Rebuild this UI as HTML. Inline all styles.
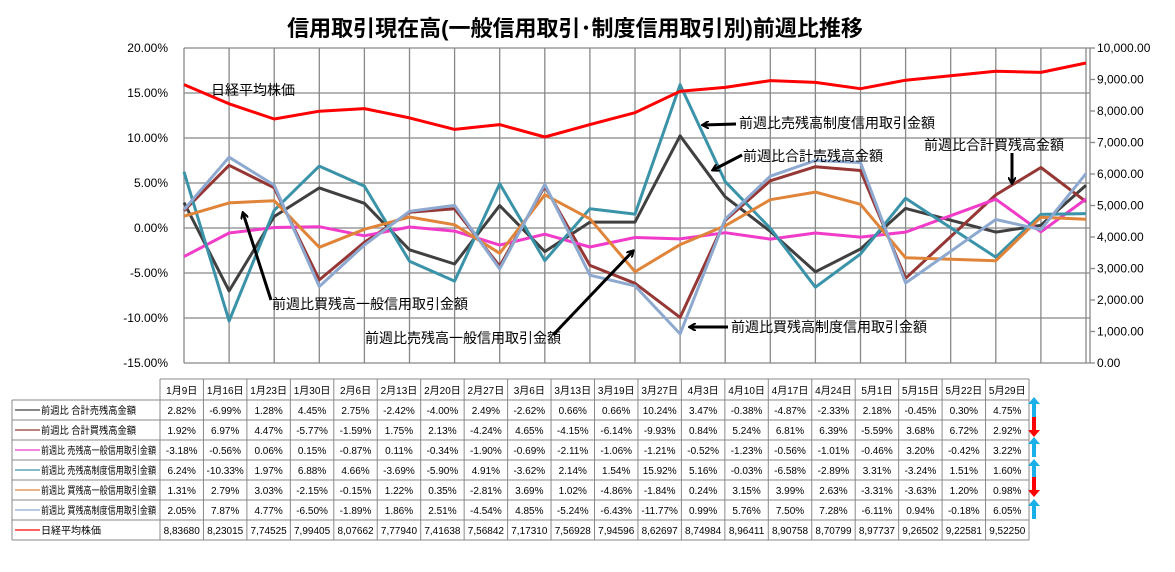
<!DOCTYPE html>
<html><head><meta charset="utf-8">
<style>
body{margin:0;background:#fff;width:1175px;height:572px;overflow:hidden;font-family:"Liberation Sans","Noto Sans CJK JP",sans-serif;}
svg{position:absolute;left:0;top:0}
</style></head><body>
<svg id="s" width="1175" height="572" xmlns="http://www.w3.org/2000/svg" font-family="Liberation Sans, Noto Sans CJK JP, sans-serif">
<text x="575" y="36" text-anchor="middle" font-size="22" font-weight="bold" fill="#000">信用取引現在高(一般信用取引･制度信用取引別)前週比推移</text>
<g id="grid" stroke="#888" stroke-width="1.3" fill="none"></g>
<g id="axes" font-size="12" fill="#000"></g>
<g id="lines" fill="none" stroke-width="3" stroke-linejoin="round"></g>
<g font-size="14" fill="#000">
<text x="211" y="95">日経平均株価</text>
<text x="739" y="128">前週比売残高制度信用取引金額</text>
<text x="743" y="161">前週比合計売残高金額</text>
<text x="924" y="150">前週比合計買残高金額</text>
<text x="272" y="309">前週比買残高一般信用取引金額</text>
<text x="365" y="343">前週比売残高一般信用取引金額</text>
<text x="731" y="332">前週比買残高制度信用取引金額</text>
</g>
<defs><marker id="ah" markerWidth="8" markerHeight="8" refX="6" refY="4" orient="auto" markerUnits="userSpaceOnUse"><path d="M0,0 L7,4 L0,8" fill="none" stroke="#000" stroke-width="2"/></marker></defs>
<g stroke="#000" stroke-width="3" marker-end="url(#ah)">
<line x1="736" y1="124" x2="703" y2="125"/>
<line x1="742" y1="155" x2="713" y2="170"/>
<line x1="1012" y1="153" x2="1012" y2="183"/>
<line x1="271" y1="300" x2="243" y2="213"/>
<line x1="553" y1="335" x2="633" y2="251"/>
<line x1="728" y1="327" x2="690" y2="327"/>
</g>
<g id="tbl" font-size="10" fill="#000"></g>
<g id="arr"></g>
</svg>
<script>
var NS="http://www.w3.org/2000/svg";
function el(p,t,a,txt){var e=document.createElementNS(NS,t);for(var k in a)e.setAttribute(k,a[k]);if(txt!=null)e.textContent=txt;document.getElementById(p).appendChild(e);return e;}
var L=184,R=1090,T=48,B=363,step=45.1;
for(var i=0;i<=7;i++){var y=T+i*45;el('grid','line',{x1:L,x2:R,y1:y,y2:y});
 el('axes','text',{x:168,y:y+4,'text-anchor':'end'},(20-5*i).toFixed(2)+'%');}
for(var i=0;i<=10;i++){var y=B-i*31.5;el('axes','text',{x:1097,y:y+4},(i*1000).toLocaleString('en-US',{minimumFractionDigits:2}));
 el('grid','line',{x1:R,x2:R+5,y1:y,y2:y});}
for(var i=0;i<=20;i++){var x=L+i*step;el('grid','line',{x1:x,x2:x,y1:T,y2:B});}
el('grid','line',{x1:R,x2:R,y1:T,y2:B});
function ins(a){var b=a.slice(0,17);b.push((a[16]+a[17])/2);return b.concat(a.slice(17));}
var S=[
["#404040",[2.82,-6.99,1.28,4.45,2.75,-2.42,-4.00,2.49,-2.62,0.66,0.66,10.24,3.47,-0.38,-4.87,-2.33,2.18,-0.45,0.30,4.75],"前週比 合計売残高金額",95],
["#953735",[1.92,6.97,4.47,-5.77,-1.59,1.75,2.13,-4.24,4.65,-4.15,-6.14,-9.93,0.84,5.24,6.81,6.39,-5.59,3.68,6.72,2.92],"前週比 合計買残高金額",95],
["#f03cc8",[-3.18,-0.56,0.06,0.15,-0.87,0.11,-0.34,-1.90,-0.69,-2.11,-1.06,-1.21,-0.52,-1.23,-0.56,-1.01,-0.46,3.20,-0.42,3.22],"前週比 売残高一般信用取引金額",115],
["#3a93a8",[6.24,-10.33,1.97,6.88,4.66,-3.69,-5.90,4.91,-3.62,2.14,1.54,15.92,5.16,-0.03,-6.58,-2.89,3.31,-3.24,1.51,1.60],"前週比 売残高制度信用取引金額",115],
["#e0843a",[1.31,2.79,3.03,-2.15,-0.15,1.22,0.35,-2.81,3.69,1.02,-4.86,-1.84,0.24,3.15,3.99,2.63,-3.31,-3.63,1.20,0.98],"前週比 買残高一般信用取引金額",115],
["#8ea9d0",[2.05,7.87,4.77,-6.50,-1.89,1.86,2.51,-4.54,4.85,-5.24,-6.43,-11.77,0.99,5.76,7.50,7.28,-6.11,0.94,-0.18,6.05],"前週比 買残高制度信用取引金額",115]];
var NK=[8836.80,8230.15,7745.25,7994.05,8076.62,7779.40,7416.38,7568.42,7173.10,7569.28,7945.96,8626.97,8749.84,8964.11,8907.58,8707.99,8977.37,9265.02,9225.81,9522.50];
S.forEach(function(s){var v=ins(s[1]);var p=v.map(function(d,i){return (L+i*step).toFixed(1)+','+(228-d*9).toFixed(1)}).join(' ');el('lines','polyline',{points:p,stroke:s[0]});});
var nv=ins(NK);el('lines','polyline',{points:nv.map(function(d,i){return (L+i*step).toFixed(1)+','+(B-d*0.0315).toFixed(1)}).join(' '),stroke:"#ff0000"});
var dates=["1月9日","1月16日","1月23日","1月30日","2月6日","2月13日","2月20日","2月27日","3月6日","3月13日","3月19日","3月27日","4月3日","4月10日","4月17日","4月24日","5月1日","5月15日","5月22日","5月29日"];
var X0=160,CW=43.45,LX=12;
var lc="#888";
el('tbl','line',{x1:X0,x2:X0+20*CW,y1:379,y2:379,stroke:lc});
for(var r=0;r<=7;r++){var y=400+r*20;el('tbl','line',{x1:LX,x2:X0+20*CW,y1:y,y2:y,stroke:lc});}
el('tbl','line',{x1:LX,x2:LX,y1:400,y2:540,stroke:lc});
for(var c=0;c<=20;c++){var x=X0+c*CW;el('tbl','line',{x1:x,x2:x,y1:379,y2:540,stroke:lc});}
dates.forEach(function(d,c){el('tbl','text',{x:X0+c*CW+CW/2,y:394,'text-anchor':'middle'},d);});
S.forEach(function(s,r){var y=400+r*20;el('tbl','line',{x1:15,x2:40,y1:y+10,y2:y+10,stroke:s[0],'stroke-width':1.2});
 el('tbl','text',{x:41,y:y+14,textLength:s[3],lengthAdjust:'spacingAndGlyphs'},s[2]);
 s[1].forEach(function(v,c){el('tbl','text',{x:X0+c*CW+CW/2,y:y+14,'text-anchor':'middle'},v.toFixed(2)+'%');});});
el('tbl','line',{x1:15,x2:40,y1:530,y2:530,stroke:"#ff0000",'stroke-width':1.2});
el('tbl','text',{x:41,y:534},"日経平均株価");
NK.forEach(function(v,c){el('tbl','text',{x:X0+c*CW+CW/2,y:534,'text-anchor':'middle'},v.toFixed(2).replace(/^(\d)(\d{3})\.(\d\d)$/,'$1,$2$3'));});
function up(y){el('arr','path',{d:"M1034,"+(y+20)+" L1034,"+(y+5),stroke:"#19b0e8","stroke-width":4});el('arr','path',{d:"M1028,"+(y+7)+" L1034,"+y+" L1040,"+(y+7)+"Z",fill:"#19b0e8"});}
function dn(y){el('arr','path',{d:"M1034,"+y+" L1034,"+(y+15),stroke:"#ff0000","stroke-width":4});el('arr','path',{d:"M1028,"+(y+13)+" L1034,"+(y+20)+" L1040,"+(y+13)+"Z",fill:"#ff0000"});}
up(397);dn(417);up(437);up(459);dn(477);up(499);
</script>
</body></html>
